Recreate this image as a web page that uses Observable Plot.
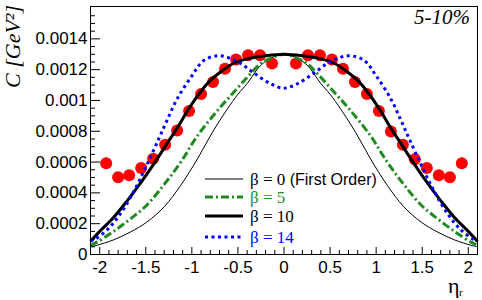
<!DOCTYPE html>
<html><head><meta charset="utf-8">
<script src="https://cdn.jsdelivr.net/npm/d3@7"></script>
<script src="https://cdn.jsdelivr.net/npm/@observablehq/plot@0.6"></script>
<style>body{margin:0;background:#fff} svg{display:block}</style>
</head><body><div id="chart"></div>
<script>
// Data points (red)
const ptEta = [-1.93,-1.80,-1.68,-1.55,-1.42,-1.29,-1.16,-1.03,-0.90,-0.77,-0.64,-0.52,-0.39,-0.26,-0.13,
               0.13,0.26,0.39,0.52,0.64,0.77,0.90,1.03,1.16,1.29,1.42,1.55,1.68,1.80,1.93];
const ptC = [0.000593,0.000501,0.000514,0.000561,0.000622,0.000712,0.000805,0.000932,0.001042,0.00112,0.001206,0.001266,0.001294,0.001294,0.00124,
             0.00124,0.001294,0.001294,0.001266,0.001206,0.00112,0.001042,0.000932,0.000798,0.000712,0.000619,0.000561,0.000514,0.000501,0.000593];

// beta = 0 (thin black)
const eta0 = [-2.1,-2.03,-1.85,-1.67,-1.49,-1.3,-1.12,-0.94,-0.78,-0.62,-0.5,-0.4,-0.25,-0.125,0,0.125,0.25,0.4,0.5,0.62,0.78,0.94,1.12,1.3,1.49,1.67,1.85,2.03,2.1];
const c0   = [0.00005,0.00006,0.000095,0.000145,0.00021,0.00031,0.00045,0.00062,0.00079,0.00094,0.00104,0.00111,0.00123,0.00128,0.0013,0.00128,0.00123,0.00111,0.00104,0.00094,0.00079,0.00062,0.00045,0.00031,0.00021,0.000145,0.000095,0.00006,0.00005];
// beta = 5 (green dash-dot)
const eta5 = [-2.1,-2.03,-1.85,-1.67,-1.49,-1.3,-1.12,-0.94,-0.7,-0.55,-0.4,-0.25,-0.12,0,0.12,0.25,0.4,0.55,0.7,0.94,1.12,1.3,1.49,1.67,1.85,2.03,2.1];
const c5   = [0.00006,0.00008,0.00015,0.00023,0.00032,0.000455,0.0006,0.00077,0.00095,0.00105,0.00115,0.00124,0.00128,0.0013,0.00128,0.00124,0.00115,0.00105,0.00095,0.00077,0.0006,0.000455,0.00032,0.00023,0.00015,0.00008,0.00006];
// beta = 10 (thick black)
const eta10 = [-2.1,-2.0,-1.85,-1.7,-1.55,-1.4,-1.28,-1.15,-1.03,-0.9,-0.8,-0.7,-0.55,-0.4,-0.2,0,0.2,0.4,0.55,0.7,0.8,0.9,1.03,1.15,1.28,1.4,1.55,1.7,1.85,2.0,2.1];
const c10   = [0.000085,0.00015,0.00024,0.00035,0.00047,0.0006,0.00071,0.00083,0.00095,0.00106,0.00113,0.00118,0.00124,0.00127,0.00129,0.0013,0.00129,0.00127,0.00124,0.00118,0.00113,0.00106,0.00095,0.00083,0.00071,0.0006,0.00047,0.00035,0.00024,0.00015,0.000085];
// beta = 14 (blue dotted)
const eta14 = [-2.1,-2.05,-1.92,-1.78,-1.63,-1.49,-1.36,-1.27,-1.16,-1.0,-0.87,-0.7,-0.5,-0.33,-0.15,0,0.15,0.33,0.5,0.7,0.87,1.0,1.16,1.27,1.36,1.49,1.63,1.78,1.92,2.05,2.1];
const c14   = [0.00009,0.0001,0.00016,0.00026,0.00041,0.00058,0.00075,0.00087,0.00101,0.00116,0.00126,0.00129,0.00125,0.00118,0.00111,0.00108,0.00111,0.00118,0.00125,0.00129,0.00126,0.00116,0.00101,0.00087,0.00075,0.00058,0.00041,0.00026,0.00016,0.0001,0.00009];

// Axes
const xMajor = [-2,-1.5,-1,-0.5,0,0.5,1,1.5,2];
const xLabels = ["-2","-1.5","-1","-0.5","0","0.5","1","1.5","2"];
const xMinor = [-2.1,-1.9,-1.8,-1.7,-1.6,-1.4,-1.3,-1.2,-1.1,-0.9,-0.8,-0.7,-0.6,-0.4,-0.3,-0.2,-0.1,0.1,0.2,0.3,0.4,0.6,0.7,0.8,0.9,1.1,1.2,1.3,1.4,1.6,1.7,1.8,1.9,2.1];
const yMajor = [0,0.0002,0.0004,0.0006,0.0008,0.001,0.0012,0.0014];
const yLabels = ["0","0.0002","0.0004","0.0006","0.0008","0.001","0.0012","0.0014"];
const yMinor = [0.00005,0.0001,0.00015,0.00025,0.0003,0.00035,0.00045,0.0005,0.00055,0.00065,0.0007,0.00075,0.00085,0.0009,0.00095,0.00105,0.0011,0.00115,0.00125,0.0013,0.00135,0.00145,0.0015,0.00155];

const legendLabels = ["\u03b2 = 0", "\u03b2 = 5", "\u03b2 = 10", "\u03b2 = 14"];

const W = 482, H = 300, mL = 90, mR = 5, mT = 6, mB = 46;
const pW = W - mL - mR, pH = H - mT - mB;
const rows = (xs, ys) => xs.map((x, i) => ({x, y: ys[i]}));

const series = [
  {x: eta0, y: c0, stroke: "#000", sw: 1, dash: null},
  {x: eta5, y: c5, stroke: "#1f8a1f", sw: 3, dash: "8 3 2 3"},
  {x: eta10, y: c10, stroke: "#000", sw: 3, dash: null},
  {x: eta14, y: c14, stroke: "#0000ff", sw: 3, dash: "3 3.5"}
];

const svg = Plot.plot({
  width: W, height: H,
  marginLeft: mL, marginRight: mR, marginTop: mT, marginBottom: mB,
  style: {fontFamily: "'Liberation Sans', Arial, sans-serif", fontSize: "17px", background: "#fff", color: "#000"},
  x: {domain: [-2.1, 2.1], axis: null},
  y: {domain: [0, 0.00161], axis: null},
  marks: [
    Plot.dot(rows(ptEta, ptC), {x: "x", y: "y", r: 6, fill: "#ff0000", stroke: "none"}),
    ...series.map(s => Plot.line(rows(s.x, s.y), {x: "x", y: "y", curve: "catmull-rom", stroke: s.stroke, strokeWidth: s.sw, strokeDasharray: s.dash, strokeLinecap: "butt"})),
    Plot.tickX(xMajor, {x: d => d, insetTop: pH - 7, stroke: "#000"}),
    Plot.tickX(xMinor, {x: d => d, insetTop: pH - 4, stroke: "#000"}),
    Plot.tickY(yMajor, {y: d => d, insetRight: pW - 10, stroke: "#000"}),
    Plot.tickY(yMinor, {y: d => d, insetRight: pW - 5, stroke: "#000"}),
    Plot.text(xMajor, {x: d => d, text: (d, i) => xLabels[i], frameAnchor: "bottom", lineAnchor: "top", dy: 6, fontSize: 17, fill: "#000"}),
    Plot.text(yMajor, {y: d => d, text: (d, i) => yLabels[i], frameAnchor: "left", textAnchor: "end", dx: -3, fontSize: 17, fill: "#000"}),
    Plot.frame({stroke: "#000", strokeWidth: 1})
  ]
});
document.getElementById("chart").appendChild(svg);

const g = d3.select(svg).append("g").attr("text-anchor", "start");
// y title
g.append("text").attr("transform", "translate(20,5) rotate(-90)")
  .attr("text-anchor", "end").attr("font-family", "'Liberation Serif', 'Times New Roman', serif")
  .attr("font-style", "italic").attr("font-size", 22).attr("fill", "#000").text("C [GeV\u00b2]");
// x title
g.append("text").attr("x", 448).attr("y", 293).attr("font-family", "'Liberation Serif', serif")
  .attr("font-size", 22).attr("fill", "#000").text("\u03b7");
g.append("text").attr("x", 459).attr("y", 296).attr("font-family", "'Liberation Serif', serif")
  .attr("font-size", 11).attr("fill", "#000").text("r");
// centrality label
g.append("text").attr("x", 470).attr("y", 24).attr("text-anchor", "end")
  .attr("font-family", "'Liberation Serif', serif").attr("font-style", "italic")
  .attr("font-size", 21).attr("fill", "#000").text("5-10%");
// legend
const legY = [179, 197, 216, 237];
series.forEach((s, i) => {
  g.append("line").attr("x1", 205).attr("x2", 243).attr("y1", legY[i]).attr("y2", legY[i])
    .attr("stroke", s.stroke).attr("stroke-width", s.sw).attr("stroke-dasharray", s.dash);
  const t = g.append("text").attr("x", 250).attr("y", legY[i] + 6).attr("text-anchor", "start")
    .attr("font-size", 16).attr("fill", s.stroke);
  t.append("tspan").attr("font-family", "'Liberation Serif', serif").attr("font-size", 17).text(legendLabels[i]);
  if (i === 0) t.append("tspan").attr("font-family", "'Liberation Sans', sans-serif").text(" (First Order)");
});
</script>
</body></html>
